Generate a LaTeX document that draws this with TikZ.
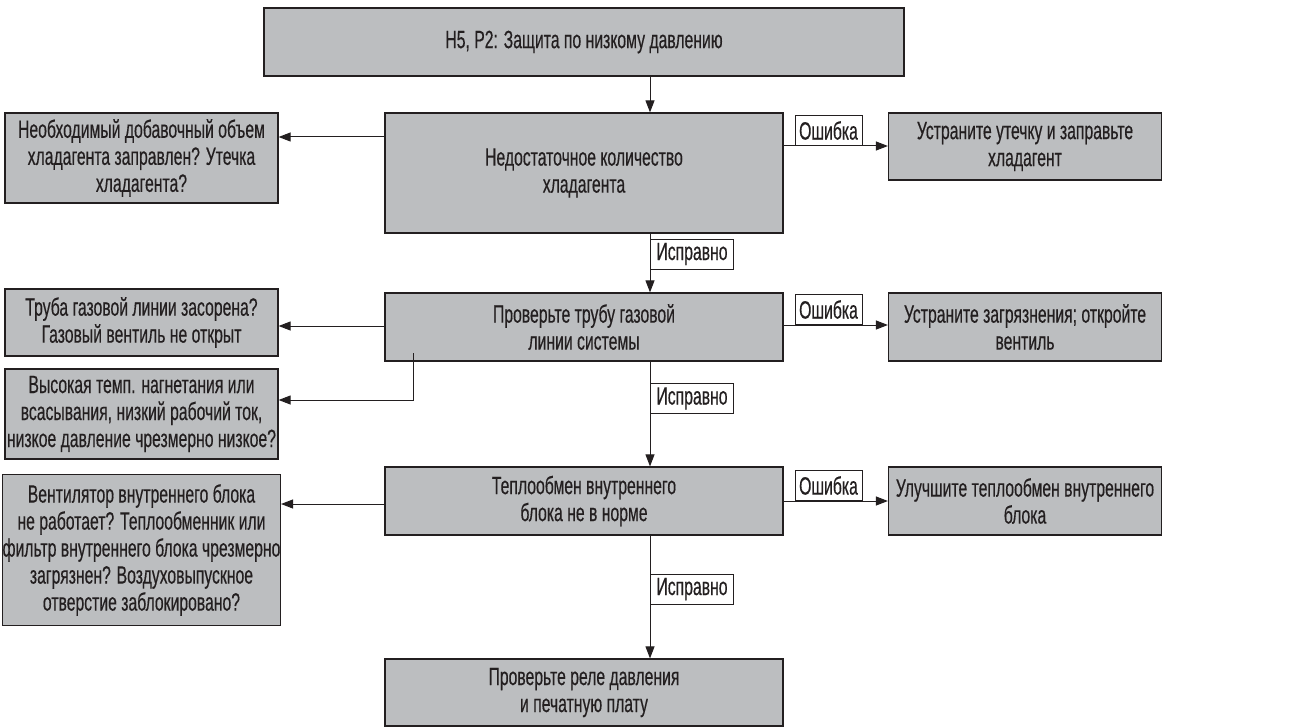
\documentclass[tikz,border=0pt]{standalone}
\usepackage{fontspec}
\setmainfont{Liberation Sans}[FakeStretch=0.63, FakeBold=0.4]
\usetikzlibrary{arrows.meta, positioning, calc}
\definecolor{boxfill}{HTML}{BCBEC0}
\definecolor{ink}{HTML}{231F20}
\tikzset{
  chk box/.style={
    draw=ink,
    line width=0.6pt,
    fill=boxfill,
    text=ink,
    align=center,
    inner xsep=0pt,
    inner ysep=1pt,
    font=\fontsize{12.5}{13.5}\selectfont
  },
  wide box/.style={chk box, minimum width=199pt},
  side box/.style={chk box, minimum width=136.5pt},
  tag/.style={
    draw=ink, line width=0.5pt, fill=white, text=ink,
    inner sep=0pt, minimum height=15pt,
    font=\fontsize{12.5}{12}\selectfont
  },
  flow/.style={-{Triangle[length=6pt, width=4.5pt]}, line width=0.5pt, ink}
}

\begin{document}
\begin{tikzpicture}[x=0.5pt, y=-0.5pt]
  \useasboundingbox (0,0) rectangle (1293,727);

  % main column
  \node[chk box, minimum width=320pt, minimum height=34pt] (top) at (584,42) {H5, P2: Защита по низкому давлению};
  \node[wide box, minimum height=60pt] (lack) at (584,173) {Недостаточное количество\\хладагента};
  \node[wide box, minimum height=34pt] (pipe) at (584,327) {Проверьте трубу газовой\\линии системы};
  \node[wide box, minimum height=34pt] (heat) at (584,501) {Теплообмен внутреннего\\блока не в норме};
  \node[wide box, minimum height=33.5pt] (relay) at (584,692.5) {Проверьте реле давления\\и печатную плату};

  % causes (left)
  \node[side box, minimum height=45pt] (leak) at (141.5,158) {Необходимый добавочный объем\\хладагента заправлен? Утечка\\хладагента?};
  \node[side box, minimum height=33.5pt] (clog) at (141.5,322.5) {Труба газовой линии засорена?\\Газовый вентиль не открыт};
  \node[side box, minimum height=45pt] (temp) at (141.5,414) {Высокая темп. нагнетания или\\всасывания, низкий рабочий ток,\\низкое давление чрезмерно низкое?};
  \node[side box, minimum height=75.5pt] (fan) at (141.5,550) {Вентилятор внутреннего блока\\не работает? Теплообменник или\\фильтр внутреннего блока чрезмерно\\загрязнен? Воздуховыпускное\\отверстие заблокировано?};

  % remedies (right)
  \node[side box, minimum height=33.5pt] (fixleak) at (1025,146.5) {Устраните утечку и заправьте\\хладагент};
  \node[side box, minimum height=34pt] (fixclog) at (1025,327) {Устраните загрязнения; откройте\\вентиль};
  \node[side box, minimum height=34pt] (fixheat) at (1025,501) {Улучшите теплообмен внутреннего\\блока};

  % spine of the main column
  \coordinate (spine) at (650,0);
  \draw[flow] (top.south -| spine) -- (lack.north -| spine);
  \draw[flow] (lack.south -| spine) -- (pipe.north -| spine);
  \draw[flow] (pipe.south -| spine) -- (heat.north -| spine);
  \draw[flow] (heat.south -| spine) -- (relay.north -| spine);

  % side branches
  \draw[flow] (lack.west |- 0,137) -- (leak.east |- 0,137);
  \draw[flow] (lack.east |- 0,146) -- (fixleak.west |- 0,146);
  \draw[flow] (pipe.west |- 0,326) -- (clog.east |- 0,326);
  \coordinate (tap) at (413,353);
  \draw[flow] (tap) |- (temp.east |- 0,400);
  \draw[flow] (pipe.east |- 0,325) -- (fixclog.west |- 0,325);
  \draw[flow] (heat.west |- 0,504) -- (fan.east |- 0,504);
  \draw[flow] (heat.east |- 0,501) -- (fixheat.west |- 0,501);

  % labels
  \node[tag, minimum width=33.5pt, anchor=south] (err1) at (828.5,146) {Ошибка};
  \node[tag, minimum width=33.5pt, anchor=south] (err2) at (828.5,325) {Ошибка};
  \node[tag, minimum width=33.5pt, anchor=south] (err3) at (828.5,501) {Ошибка};
  \node[tag, minimum width=41.5pt, anchor=west] (ok1) at (650,254) {Исправно};
  \node[tag, minimum width=41.5pt, anchor=west] (ok2) at (650,398.5) {Исправно};
  \node[tag, minimum width=41.5pt, anchor=west] (ok3) at (650,589) {Исправно};
\end{tikzpicture}
\end{document}
